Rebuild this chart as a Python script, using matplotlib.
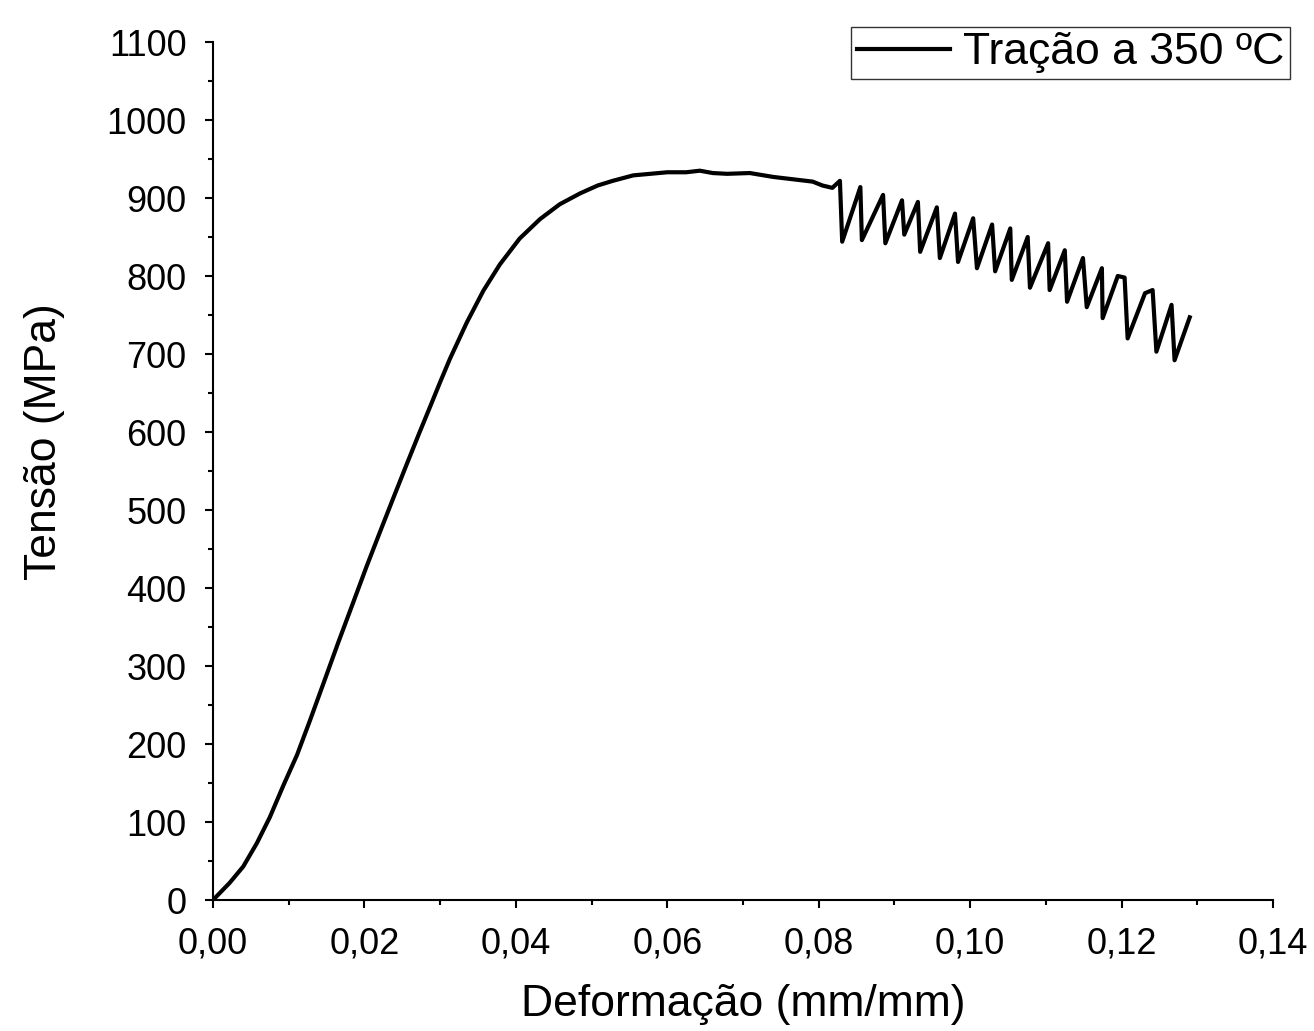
import matplotlib
matplotlib.use("Agg")
import matplotlib.pyplot as plt
from matplotlib.ticker import MultipleLocator, FuncFormatter

plt.rcParams['font.family'] = ['Liberation Sans', 'DejaVu Sans']

# strain (mm/mm) and stress (MPa)
deformacao = [0.0, 0.0009, 0.0022, 0.004, 0.0058, 0.0075, 0.0093, 0.0111, 0.0128,
              0.0146, 0.0165, 0.0185, 0.0203, 0.0221, 0.0238, 0.0256, 0.0273, 0.0287,
              0.0300, 0.0313, 0.0335, 0.0357, 0.0379, 0.0405, 0.0432, 0.0458, 0.0485,
              0.0508, 0.0528, 0.0555, 0.0600, 0.0625, 0.0643, 0.066, 0.0679, 0.0709,
              0.074, 0.0766, 0.0792, 0.0805, 0.0818, 0.0828,
              0.0831, 0.0855, 0.0857, 0.0885, 0.0888, 0.0910, 0.0913, 0.0931, 0.0934,
              0.0956, 0.0960, 0.0980, 0.0984, 0.1004, 0.1009, 0.1029, 0.1033, 0.1053,
              0.1055, 0.1076, 0.1079, 0.1103, 0.1105, 0.1125, 0.1128, 0.1149, 0.1154,
              0.1174, 0.1175, 0.1195, 0.1204, 0.1208, 0.1231, 0.1241, 0.1246, 0.1266,
              0.1270, 0.1290]
tensao = [0, 9, 22, 43, 73, 106, 147, 186, 230,
          278, 329, 381, 428, 473, 515, 559, 600, 633,
          664, 694, 740, 781, 815, 848, 873, 892, 906,
          916, 922, 929, 933, 933, 935, 932, 931, 932,
          927, 924, 921, 916, 913, 922,
          844, 914, 846, 904, 842, 897, 853, 895, 831,
          888, 823, 880, 818, 874, 810, 866, 806, 861,
          795, 850, 785, 842, 782, 833, 767, 823, 760,
          810, 746, 800, 798, 720, 778, 782, 703, 763,
          692, 747]

fig = plt.figure(figsize=(13.14, 10.31), dpi=100)
ax = fig.add_axes([213/1314, 1-900/1031, 1060/1314, 858/1031])

ax.plot(deformacao, tensao, color='black', lw=3, label='Tração a 350 ºC')

ax.set_xlim(0, 0.14)
ax.set_ylim(0, 1100)
ax.xaxis.set_major_locator(MultipleLocator(0.02))
ax.xaxis.set_minor_locator(MultipleLocator(0.01))
ax.yaxis.set_major_locator(MultipleLocator(100))
ax.yaxis.set_minor_locator(MultipleLocator(50))
ax.xaxis.set_major_formatter(FuncFormatter(lambda v, p: f"{v:.2f}".replace('.', ',')))

for s in ['top', 'right']:
    ax.spines[s].set_visible(False)
for s in ['left', 'bottom']:
    ax.spines[s].set_linewidth(1.5)

ax.tick_params(which='major', direction='out', length=6, width=1.5, labelsize=26, pad=13)
ax.tick_params(which='minor', direction='out', length=3.5, width=1.5)

ax.set_xlabel('Deformação (mm/mm)', fontsize=32)
ax.set_ylabel('Tensão (MPa)', fontsize=32)
ax.xaxis.set_label_coords(0.5, -0.098)
ax.yaxis.set_label_coords(-0.1396, 0.534)

leg = ax.legend(loc='upper right', bbox_to_anchor=(1290/1314, 1-27/1031),
                bbox_transform=fig.transFigure, borderaxespad=0, fontsize=32,
                fancybox=False, frameon=True, handlelength=2.1, borderpad=0.12,
                handletextpad=0.3)
leg.get_frame().set_edgecolor('black')
leg.get_frame().set_linewidth(1.0)

fig.savefig('out.png', dpi=100)
